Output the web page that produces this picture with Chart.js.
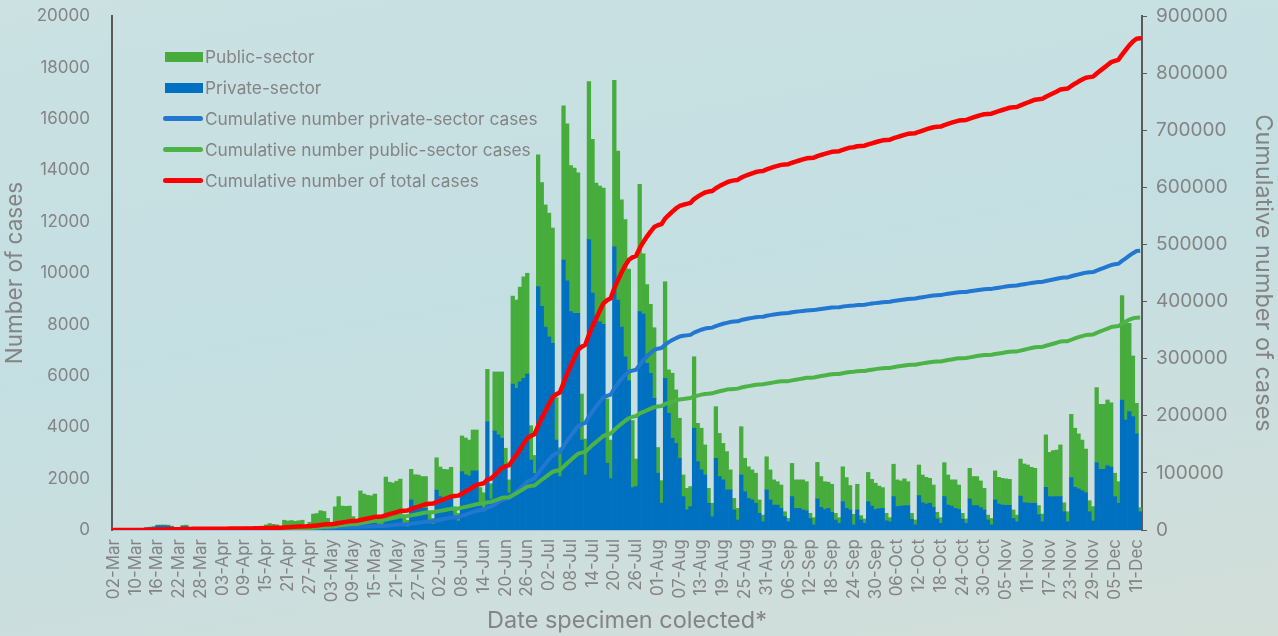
<!DOCTYPE html>
<html>
<head>
<meta charset="utf-8">
<script src="https://cdn.jsdelivr.net/npm/chart.js@4.4.0/dist/chart.umd.min.js"></script>
<style>
  html, body { margin: 0; padding: 0; }
  body {
    width: 1278px; height: 636px; overflow: hidden;
    background: linear-gradient(170deg, #cbe1e2 0%, #c4dfe2 45%, #d3ded9 100%);
    font-family: Inter, sans-serif;
  }
  #wrap { position: relative; width: 1278px; height: 636px; }
  canvas { position: absolute; left: 0; top: 0; }
  .legend { position: absolute; left: 163px; top: 41px; }
  .legend .row { position: relative; height: 31px; line-height: 31px; padding-left: 42px; color: #848484; font-size: 17.3px; white-space: nowrap; }
  .legend .sw { position: absolute; left: 2px; top: 11px; width: 38px; height: 10px; }
  .legend .ln { position: absolute; left: 0; top: 13px; width: 40px; height: 5px; border-radius: 3px; }
</style>
</head>
<body>
<div id="wrap">
  <canvas id="chart" width="1278" height="636"></canvas>
  <div class="legend">
    <div class="row"><span class="sw" style="background:#46ac3c"></span>Public-sector</div>
    <div class="row"><span class="sw" style="background:#0070c0"></span>Private-sector</div>
    <div class="row"><span class="ln" style="background:#2277d0"></span>Cumulative number private-sector cases</div>
    <div class="row"><span class="ln" style="background:#4cb446"></span>Cumulative number public-sector cases</div>
    <div class="row"><span class="ln" style="background:#ff0000"></span>Cumulative number of total cases</div>
  </div>
</div>
<script>
// categories: 02-Mar, then every day 05-Mar .. 12-Dec
const months = ['Jan','Feb','Mar','Apr','May','Jun','Jul','Aug','Sep','Oct','Nov','Dec'];
const dates = ['02-Mar'];
for (let d = new Date(2020, 2, 5); d <= new Date(2020, 11, 12); d.setDate(d.getDate() + 1)) {
  dates.push(String(d.getDate()).padStart(2, '0') + '-' + months[d.getMonth()]);
}

// daily totals (private + public)
const totalCases = [
  1,2,3,5,8,
  15,25,40,60,90,110,130,
  190,195,195,190,150,40,60,
  180,190,60,50,40,40,30,
  50,50,45,40,35,30,60,
  60,70,60,50,40,80,100,
  110,
  150,200,250,220,200,120,
  380,350,370,340,360,380,150,
  300,620,640,750,720,450,250,
  // from 04-May, Mon..Sun
  900,1300,930,920,930,520,300,
  1520,1400,1350,1330,1400,400,350,
  2060,1860,1830,1900,1980,550,380,
  2360,2150,2140,2080,2080,700,450,
  2810,2450,2360,2350,2440,900,650,
  3660,3580,3500,3890,3890,1650,1450,
  6250,1800,6150,6150,6150,3180,1950,
  9100,8950,9450,9850,9990,4060,2900,
  14600,13520,12650,12330,11750,5150,3200,
  16500,15800,14180,14080,13900,5290,3540,
  17450,15200,13500,13380,13300,5100,3500,
  17500,14740,12850,12080,10150,4260,2760,
  13450,10750,9550,8780,7870,3210,1920,
  9660,6230,6100,5450,4350,2140,1620,
  1690,6740,4150,3960,3310,1620,1040,
  4800,3760,3370,3050,2340,1230,840,
  4020,2790,2460,2340,2210,1170,580,
  2850,2340,1950,1880,1750,710,450,
  2590,1950,1950,1950,1880,650,480,
  2630,2080,1880,1860,1780,650,480,
  2460,2040,1730,610,1780,560,430,
  2240,1970,1820,1710,1650,650,480,
  2560,1950,1910,1990,1880,650,390,
  2530,2140,2050,2010,1750,690,480,
  2620,2140,1950,1950,1750,650,430,
  2400,2080,2080,1910,1620,580,450,
  2300,2050,2010,1990,1970,780,580,
  2760,2570,2530,2440,2400,950,620,
  3700,3020,3090,3110,3310,1060,710,
  4500,3960,3740,3500,3150,1140,910,
  5540,4890,4890,5060,4950,2210,1880,
  9120,8040,8040,6770,4930,870
];

// daily private-sector cases (blue part of each bar)
const privateCases = [
  1,2,3,5,8,
  14,23,36,52,78,95,110,
  160,165,160,150,120,30,45,
  130,140,40,30,25,25,20,
  30,30,25,25,20,18,35,
  35,40,35,30,22,45,55,
  60,
  70,90,110,100,90,50,
  110,100,110,100,100,110,50,
  80,130,130,150,140,90,60,
  200,250,200,200,200,100,70,
  300,280,260,260,280,120,90,
  600,500,480,500,520,180,120,
  1170,950,900,850,850,350,220,
  1550,1300,1200,1200,1250,500,350,
  2270,2150,2100,2300,2300,1000,800,
  4210,1200,3850,3700,3570,2530,1440,
  5680,5510,5770,5900,6070,2720,2200,
  9470,8700,7900,7520,7260,3500,2080,
  10500,9700,8500,8430,8430,3500,2140,
  11300,9220,8300,8100,8000,2600,2000,
  11020,8950,7900,6740,5800,1650,1690,
  8500,8400,6490,6100,5120,2210,1040,
  5900,4540,3570,3370,2790,1300,780,
  910,3960,2660,2340,2140,1040,520,
  2790,2080,1950,1560,1560,780,390,
  2140,1490,1230,1170,1040,650,320,
  1560,1170,970,970,840,520,320,
  1300,840,840,780,750,450,200,
  1210,880,800,840,690,390,260,
  1100,840,780,200,780,390,260,
  1100,930,800,830,840,360,320,
  1300,910,930,950,950,420,200,
  1340,1060,1010,1040,880,430,260,
  1300,970,930,840,800,420,260,
  1210,950,950,870,780,390,200,
  1170,1010,970,960,960,450,320,
  1320,1060,1050,1040,1040,600,320,
  1660,1300,1290,1300,1300,710,320,
  2040,1660,1600,1530,1450,710,350,
  2620,2360,2360,2500,2450,1300,1040,
  5060,4280,4610,4410,3740,710
];

const yTicks = { max: 20000, step: 2000 };
const y2Ticks = { max: 900000, step: 100000 };

const publicCases = totalCases.map((t, i) => t - privateCases[i]);

function runningSum(arr) {
  let s = 0;
  return arr.map(v => (s += v));
}
const cumPrivate = runningSum(privateCases);
const cumPublic = runningSum(publicCases);
const cumTotal = runningSum(totalCases);

const grey = '#848484';
Chart.defaults.font.family = 'Inter, sans-serif';

// keep the plot box fixed: 112..1142 by 16..530
const fitY = w => s => { s.width = w; s.paddingTop = 0; s.paddingBottom = 0; };

const ctx = document.getElementById('chart').getContext('2d');
new Chart(ctx, {
  data: {
    labels: dates,
    datasets: [
      {
        type: 'line', label: 'Cumulative number of total cases', data: cumTotal, yAxisID: 'y2',
        borderColor: '#ff0000', borderWidth: 4.5, pointRadius: 0, tension: 0, order: 0,
        borderCapStyle: 'round', borderJoinStyle: 'round'
      },
      {
        type: 'line', label: 'Cumulative number public-sector cases', data: cumPublic, yAxisID: 'y2',
        borderColor: '#4cb446', borderWidth: 4, pointRadius: 0, tension: 0, order: 1,
        borderJoinStyle: 'round'
      },
      {
        type: 'line', label: 'Cumulative number private-sector cases', data: cumPrivate, yAxisID: 'y2',
        borderColor: '#2277d0', borderWidth: 4, pointRadius: 0, tension: 0, order: 2,
        borderJoinStyle: 'round'
      },
      {
        type: 'bar', label: 'Private-sector', data: privateCases, yAxisID: 'y',
        backgroundColor: '#0070c0', borderWidth: 0, barPercentage: 1, categoryPercentage: 1,
        stack: 'cases', order: 3
      },
      {
        type: 'bar', label: 'Public-sector', data: publicCases, yAxisID: 'y',
        backgroundColor: '#46ac3c', borderWidth: 0, barPercentage: 1, categoryPercentage: 1,
        stack: 'cases', order: 3
      }
    ]
  },
  options: {
    responsive: false,
    animation: false,
    devicePixelRatio: 1,
    layout: { autoPadding: false, padding: { top: 16, left: 0, right: 0, bottom: 0 } },
    plugins: {
      legend: { display: false },
      tooltip: { enabled: false }
    },
    scales: {
      x: {
        stacked: true,
        grid: { display: false, drawTicks: false },
        border: { display: true, color: '#a3c3dc', width: 1 },
        ticks: {
          autoSkip: false, minRotation: 90, maxRotation: 90, padding: 9,
          color: grey, font: { size: 17 },
          callback: (v, i) => (i % 6 === 0 ? dates[i] : null)
        },
        title: { display: true, text: 'Date specimen colected*', color: grey, font: { size: 23.5 }, padding: { top: 0, bottom: 1 } },
        afterFit: s => { s.height = 106; s.paddingLeft = 0; s.paddingRight = 0; }
      },
      y: {
        stacked: true, position: 'left', min: 0, max: yTicks.max,
        grid: { display: false, drawTicks: false },
        border: { display: true, color: '#5a5a5a', width: 2 },
        ticks: { stepSize: yTicks.step, padding: 22, color: grey, font: { size: 17 }, callback: v => String(v) },
        title: { display: true, text: 'Number of cases', color: grey, font: { size: 22.5 }, padding: { top: 2, bottom: 0 } },
        afterFit: fitY(112)
      },
      y2: {
        stacked: false, position: 'right', min: 0, max: y2Ticks.max,
        grid: { display: true, drawOnChartArea: false, drawTicks: true, tickLength: 5, color: '#5a5a5a' },
        border: { display: true, color: '#5a5a5a', width: 2 },
        ticks: { stepSize: y2Ticks.step, padding: 9, color: grey, font: { size: 19 }, callback: v => String(v) },
        title: { display: true, text: 'Cumulative number of cases', color: grey, font: { size: 23.5 }, padding: { top: 1, bottom: 0 } },
        afterFit: fitY(136)
      }
    }
  }
});
</script>
</body>
</html>
